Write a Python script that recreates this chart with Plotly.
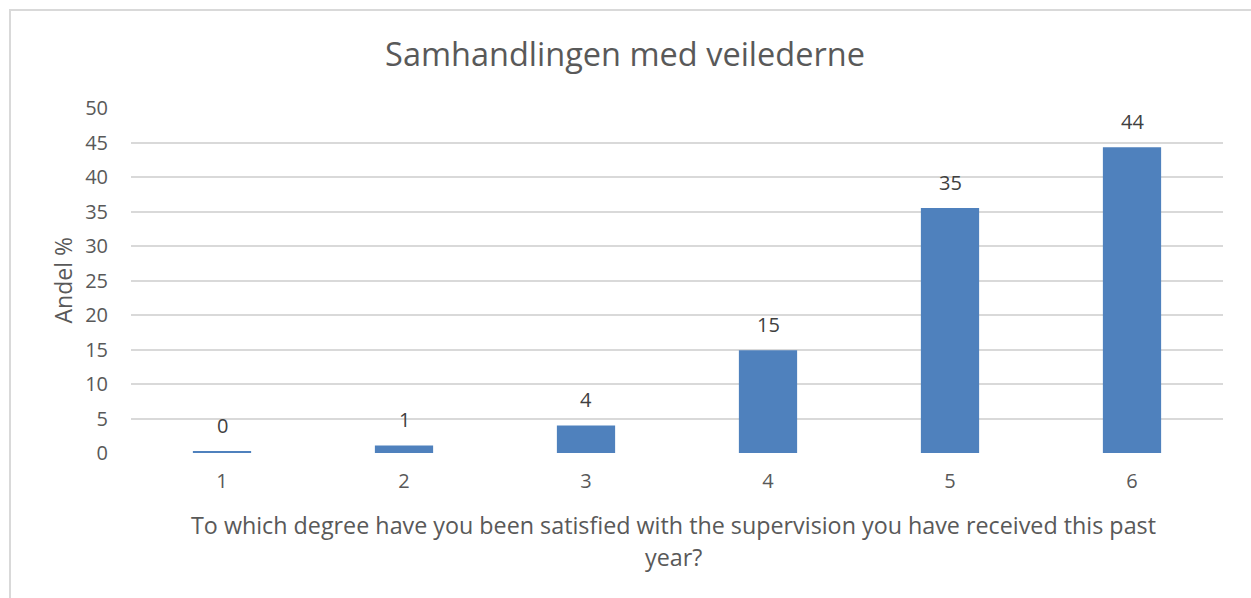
import plotly.graph_objects as go

categories = ["1", "2", "3", "4", "5", "6"]
values = [0.2, 1.1, 4.0, 14.9, 35.5, 44.3]
value_labels = ["0", "1", "4", "15", "35", "44"]
y_ticks = [0, 5, 10, 15, 20, 25, 30, 35, 40, 45, 50]

title_text = "Samhandlingen med veilederne"
x_title_line1 = "To which degree have you been satisfied with the supervision you have received this past"
x_title_line2 = "year?"
y_title = "Andel %"

W, H = 1251, 598
L, R, T, B = 131, 28, 108, 145
PW, PH = W - L - R, H - T - B

FONT = "Open Sans"
TXT = "#595959"

fig = go.Figure()
fig.add_trace(go.Bar(
    x=categories, y=values,
    marker=dict(color="#4f81bd", line=dict(width=0)),
    hoverinfo="skip",
))

annotations = []
for i, (v, lab) in enumerate(zip(values, value_labels)):
    annotations.append(dict(
        x=i, y=v, xref="x", yref="y", text=lab, showarrow=False,
        yanchor="middle", yshift=26, font=dict(family=FONT, size=20, color="#404040"),
    ))

def py(pix):
    return (H - B - pix) / PH

def px(pix):
    return (pix - L) / PW

annotations.append(dict(
    x=px(673), y=py(525), xref="paper", yref="paper", text=x_title_line1, showarrow=False,
    xanchor="center", yanchor="middle", font=dict(family=FONT, size=23.3, color=TXT),
))
annotations.append(dict(
    x=px(673), y=py(557), xref="paper", yref="paper", text=x_title_line2, showarrow=False,
    xanchor="center", yanchor="middle", font=dict(family=FONT, size=23.3, color=TXT),
))
annotations.append(dict(
    x=px(62), y=0.5, xref="paper", yref="paper", text=y_title, showarrow=False,
    xanchor="center", yanchor="middle", textangle=-90,
    font=dict(family=FONT, size=23, color=TXT),
))

fig.update_layout(
    width=W, height=H,
    margin=dict(l=L, r=R, t=T, b=B, autoexpand=False),
    paper_bgcolor="white", plot_bgcolor="white",
    showlegend=False,
    bargap=0.68,
    title=dict(text=title_text, x=625 / W, xref="container", xanchor="center",
               y=1 - 55 / H, yanchor="middle", automargin=False,
               font=dict(family=FONT, size=32.5, color=TXT)),
    annotations=annotations,
    shapes=[dict(type="rect", xref="paper", yref="paper",
                 x0=px(10), x1=px(W + 20),
                 y0=py(H + 20), y1=py(10),
                 line=dict(color="#d9d9d9", width=2), fillcolor="rgba(0,0,0,0)",
                 layer="below")],
)

fig.update_yaxes(
    range=[0, 50], tickvals=y_ticks, ticktext=[str(t) for t in y_ticks],
    showgrid=True, gridcolor="#d9d9d9", gridwidth=2,
    zeroline=False, showline=False, ticks="",
    ticklabelstandoff=22, automargin=False,
    tickfont=dict(family=FONT, size=20, color=TXT),
    fixedrange=True,
)
fig.update_xaxes(
    type="category",
    showgrid=False, zeroline=False, showline=False, ticks="",
    ticklabelstandoff=14, automargin=False,
    tickfont=dict(family=FONT, size=20, color=TXT),
    fixedrange=True,
)

fig.write_html(
    "out.html",
    config={"displayModeBar": False},
    post_script="document.body.style.margin='0';document.body.style.overflow='hidden';",
)
